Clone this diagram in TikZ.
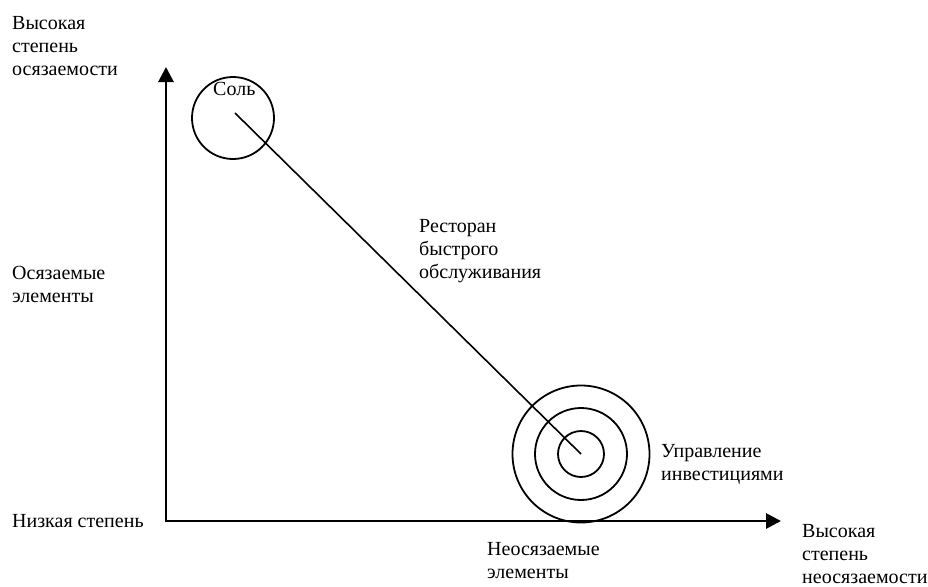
\documentclass[tikz,border=0pt]{standalone}
\usepackage{fontspec}
\setmainfont{Liberation Serif}
\usetikzlibrary{arrows.meta}

\begin{document}
\begin{tikzpicture}[x=1pt,y=-1pt, every node/.style={font=\fontsize{20}{23}\selectfont,align=left,inner sep=0pt,anchor=base west}, ring/.style={draw,circle,anchor=center,line width=1.8pt,minimum size=#1}, ax/.style={{Triangle[length=15pt,width=15pt]}-{Triangle[length=15pt,width=15pt]},line width=2.8pt}, ln/.style={line width=1.6pt}]
\useasboundingbox (0,0) rectangle (928,586);
% axes
\coordinate (o) at (166,521);
\coordinate (ytop) at (166,67);
\coordinate (xend) at (781,521);
\draw[ax] (ytop)--(o)--(xend);
% circles
\node[ring=82pt] (salt) at (233,118) {};
\node[ring=46pt] (inv1) at (581,454) {};
\node[ring=92pt] (inv2) at (581,454) {};
\node[ring=137pt] (inv3) at (581,454) {};
\coordinate (from) at (235,113);
\draw[ln] (from)--(inv1.center);
% labels (base = last line)
\node (saltlbl) at (213,95) {Соль};
\node (hi) at (12,75) {Высокая\\степень\\осязаемости};
\node (tang) at (12,302) {Осязаемые\\элементы};
\node (low) at (12,527) {Низкая степень};
\node (rest) at (419,278) {Ресторан\\быстрого\\обслуживания};
\node (invlbl) at (661,480) {Управление\\инвестициями};
\node (intang) at (487,578) {Неосязаемые\\элементы};
\node (hiint) at (802,583) {Высокая\\степень\\неосязаемости};
\end{tikzpicture}
\end{document}
